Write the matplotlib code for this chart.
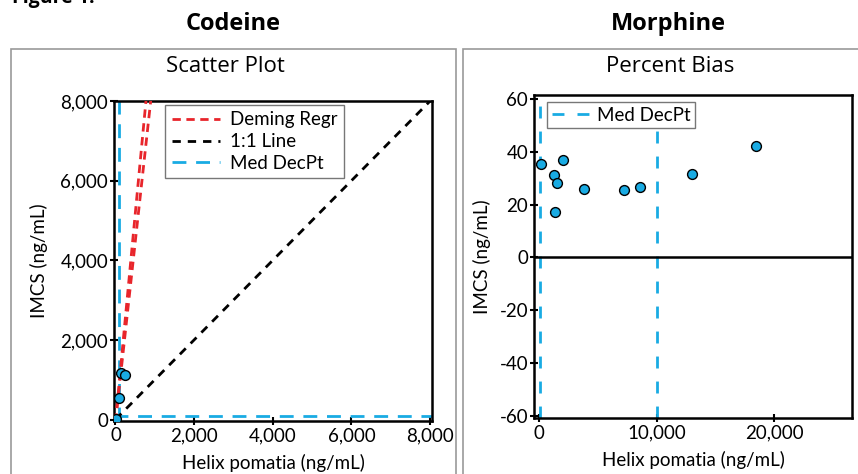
import matplotlib
matplotlib.use("Agg")
import matplotlib.pyplot as plt
from matplotlib.patches import Rectangle
import numpy as np

# ---------------- data ----------------
codeine_x = [25, 100, 150, 230]
codeine_y = [25, 550, 1180, 1130]
deming_x = [0, 8000]
deming_a_slope, deming_a_int = 10.4, -60
deming_b_slope, deming_b_int = 9.0, -60
identity = [0, 8000]
codeine_decpt = 100

morph_x = [120, 2040, 1230, 1480, 1340, 3810, 7240, 8580, 13030, 18460]
morph_bias = [35.3, 37.0, 31.1, 28.2, 17.0, 25.8, 25.5, 26.8, 31.5, 42.3]
morph_decpts = [100, 10000]

left_xticks = [0, 2000, 4000, 6000, 8000]
left_yticks = [0, 2000, 4000, 6000, 8000]
right_xticks = [0, 10000, 20000]
right_yticks = [-60, -40, -20, 0, 20, 40, 60]

BLUE = "#19ABE3"
RED = "#E8252B"
TICKFONT = "Lato"
TITLEFONT = "Open Sans"

fig = plt.figure(figsize=(8.58, 4.74), dpi=100)
W, H = 858, 474

def fx(px):
    return px / W

def fy(py):
    return 1 - py / H

# panel frames
fig.patches.append(Rectangle((fx(11), fy(480)), fx(456 - 11), fy(49) - fy(480),
                             transform=fig.transFigure, fill=False,
                             edgecolor="#999999", lw=1.2))
fig.patches.append(Rectangle((fx(463), fy(480)), fx(870 - 463), fy(49) - fy(480),
                             transform=fig.transFigure, fill=False,
                             edgecolor="#999999", lw=1.2))

fig.text(fx(12), fy(8), "Figure 1:", fontsize=14, fontweight="bold",
         family=TITLEFONT, ha="left", va="bottom")
fig.text(fx(233), fy(24), "Codeine", fontsize=17, fontweight="bold",
         family=TITLEFONT, ha="center", va="center")
fig.text(fx(668), fy(24), "Morphine", fontsize=17, fontweight="bold",
         family=TITLEFONT, ha="center", va="center")
fig.text(fx(225), fy(66), "Scatter Plot", fontsize=16,
         family=TITLEFONT, ha="center", va="center")
fig.text(fx(670), fy(66), "Percent Bias", fontsize=16,
         family=TITLEFONT, ha="center", va="center")

def style_axes(ax):
    for s in ax.spines.values():
        s.set_linewidth(1.8)
        s.set_color("black")
    ax.tick_params(direction="inout", length=6, width=1.5, labelsize=13.5,
                   pad=1.5)
    for lab in ax.get_xticklabels() + ax.get_yticklabels():
        lab.set_family(TICKFONT)

# ---------------- left: scatter ----------------
axL = fig.add_axes([fx(114.3), fy(420.7), fx(431.7 - 114.3), fy(101) - fy(420.7)])
xs = np.array(deming_x, dtype=float)
ya = deming_a_slope * xs + deming_a_int
yb = deming_b_slope * xs + deming_b_int
axL.plot(xs, ya, color=RED, lw=2, linestyle=(0, (3, 2)), label="Deming Regr", zorder=3)
axL.plot(xs, yb, color=RED, lw=2, linestyle=(0, (3, 2)), zorder=3)
axL.plot(identity, identity, color="black", lw=2, linestyle=(0, (3, 2.5)), label="1:1 Line", zorder=3)
axL.axvline(codeine_decpt, color=BLUE, lw=2, linestyle=(0, (5, 3.5)), label="Med DecPt", zorder=2)
axL.axhline(codeine_decpt, color=BLUE, lw=2, linestyle=(0, (5, 3.5)), zorder=2)
axL.scatter(codeine_x, codeine_y, s=50, color=BLUE, edgecolor="black", lw=1, zorder=5)
axL.set_xlim(-30, 8040)
axL.set_ylim(-30, 8000)
axL.set_xticks(left_xticks)
axL.set_yticks(left_yticks)
axL.set_xticklabels([f"{v:,}" for v in left_xticks])
axL.set_yticklabels([f"{v:,}" for v in left_yticks])
axL.set_xlabel("Helix pomatia (ng/mL)", family=TICKFONT, fontsize=13.5, labelpad=7)
axL.set_ylabel("IMCS (ng/mL)", family=TICKFONT, fontsize=13.5, labelpad=9)
style_axes(axL)
legL = axL.legend(loc="upper left", bbox_to_anchor=(0.16, 0.988), borderaxespad=0,
                  fancybox=False, framealpha=1, edgecolor="#777777",
                  prop={"family": TICKFONT, "size": 13.5}, handlelength=2.6,
                  handletextpad=0.5, borderpad=0.35, labelspacing=0.25)
legL.get_frame().set_linewidth(1.0)

# ---------------- right: percent bias ----------------
axR = fig.add_axes([fx(534.3), fy(418.3), fx(852 - 534.3), fy(95) - fy(418.3)])
for i, d in enumerate(morph_decpts):
    axR.axvline(d, color=BLUE, lw=2, linestyle=(0, (4.3, 4.7)),
                label="Med DecPt" if i == 0 else None, zorder=2)
axR.axhline(0, color="black", lw=1.8, zorder=3)
axR.scatter(morph_x, morph_bias, s=50, color=BLUE, edgecolor="black", lw=1, zorder=5)
axR.set_xlim(-426, 26635)
axR.set_ylim(-61, 61.5)
axR.set_xticks(right_xticks)
axR.set_yticks(right_yticks)
axR.set_xticklabels([f"{v:,}" for v in right_xticks])
axR.set_yticklabels([str(v) for v in right_yticks])
axR.set_xlabel("Helix pomatia (ng/mL)", family=TICKFONT, fontsize=13.5, labelpad=7)
axR.set_ylabel("IMCS (ng/mL)", family=TICKFONT, fontsize=13.5, labelpad=6)
style_axes(axR)
legR = axR.legend(loc="upper left", bbox_to_anchor=(0.04, 0.978), borderaxespad=0,
                  fancybox=False, framealpha=1, edgecolor="#777777",
                  prop={"family": TICKFONT, "size": 13.5}, handlelength=2.4,
                  handletextpad=0.0, borderpad=0.25)
legR.get_frame().set_linewidth(1.0)

fig.savefig("out.png", dpi=100)
